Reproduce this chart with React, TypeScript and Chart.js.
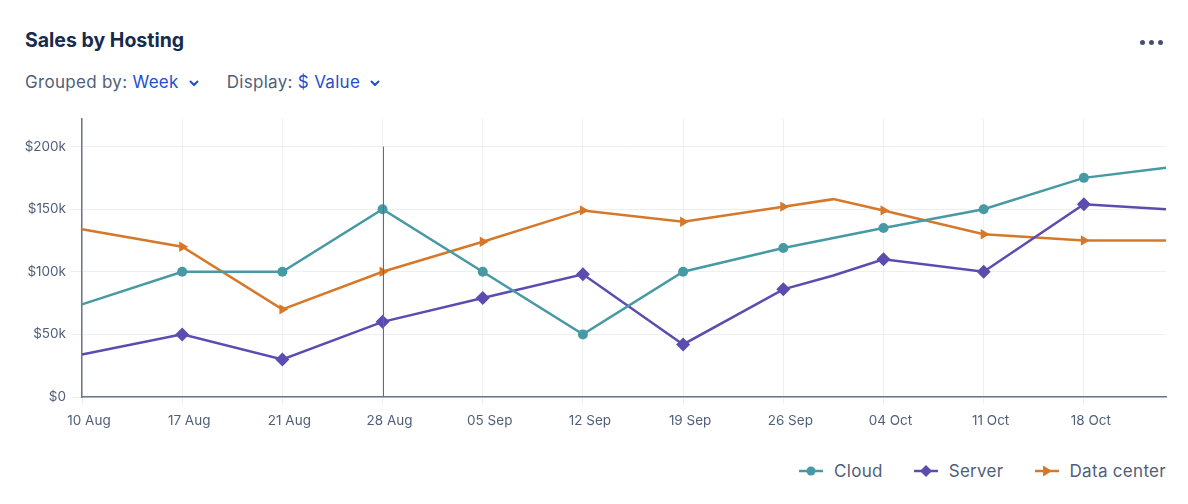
import React, { useEffect, useRef } from "react";
import { Chart, registerables } from "chart.js";

Chart.register(...registerables);

const tickLabels = ["10 Aug", "17 Aug", "21 Aug", "28 Aug", "05 Sep", "12 Sep", "19 Sep", "26 Sep", "04 Oct", "11 Oct", "18 Oct"];
// week offsets of every data point (7.5 is an in-between week, 10.82 the partial last week)
const weekOffsets = [0, 1, 2, 3, 4, 5, 6, 7, 7.5, 8, 9, 10, 10.82];
const cloud = [74, 100, 100, 150, 100, 50, 100, 119, 127, 135, 150, 175, 183];
const server = [34, 50, 30, 60, 79, 98, 42, 86, 97, 110, 100, 154, 150];
const dataCenter = [134, 120, 70, 100, 124, 149, 140, 152, 158, 149, 130, 125, 125];
const markerShown = [false, true, true, true, true, true, true, true, false, true, true, true, false];
const yTicks = [0, 50, 100, 150, 200];
const highlightWeek = 3;

const COLORS = { cloud: "#4799a4", server: "#5b4cb0", dc: "#d6782a" };
const FONT = "Inter, 'Noto Sans', sans-serif";

function series(vals: number[]) {
  return vals.map((v, i) => ({ x: weekOffsets[i], y: v * 1000 }));
}

const hoverLine = {
  id: "hoverLine",
  afterDatasetsDraw(chart: any) {
    const { ctx, scales } = chart;
    const x = scales.x.getPixelForValue(highlightWeek);
    const top = scales.y.getPixelForValue(200000);
    const bottom = scales.y.getPixelForValue(0);
    ctx.save();
    ctx.strokeStyle = "#5e6c84";
    ctx.lineWidth = 1;
    ctx.beginPath();
    ctx.moveTo(Math.round(x) + 0.5, top);
    ctx.lineTo(Math.round(x) + 0.5, bottom);
    ctx.stroke();
    ctx.restore();
  },
};

function LegendIcon({ color, shape }: { color: string; shape: string }) {
  let marker: any;
  if (shape === "circle") marker = <circle cx="12" cy="8" r="4.5" fill={color} />;
  else if (shape === "diamond") marker = <polygon points="12,2 18,8 12,14 6,8" fill={color} />;
  else marker = <polygon points="8,2.5 17,8 8,13.5" fill={color} />;
  return (
    <svg width="24" height="16" style={{ display: "block" }}>
      <line x1="0" y1="8" x2="24" y2="8" stroke={color} strokeWidth="2.5" />
      {marker}
    </svg>
  );
}

function Chevron() {
  return (
    <svg width="12" height="12" viewBox="0 0 12 12" style={{ display: "inline-block", marginLeft: 9, verticalAlign: "middle" }}>
      <polyline points="2.5,4.5 6,8 9.5,4.5" fill="none" stroke="#1f4fd1" strokeWidth="2" strokeLinecap="round" strokeLinejoin="round" />
    </svg>
  );
}

export default function App() {
  const ref = useRef<HTMLCanvasElement | null>(null);

  useEffect(() => {
    if (!ref.current) return;
    const mk = (label: string, vals: number[], color: string, style: any, radius: number, rotation = 0) => ({
      label,
      data: series(vals),
      borderColor: color,
      backgroundColor: color,
      borderWidth: 2.5,
      pointStyle: style,
      pointRotation: rotation,
      pointRadius: markerShown.map((m) => (m ? radius : 0)),
      pointHoverRadius: markerShown.map((m) => (m ? radius : 0)),
      pointBorderWidth: 0,
      tension: 0,
      clip: false as any,
    });
    const chart = new Chart(ref.current, {
      type: "line",
      data: {
        datasets: [
          mk("Cloud", cloud, COLORS.cloud, "circle", 5),
          mk("Server", server, COLORS.server, "rectRot", 7),
          mk("Data center", dataCenter, COLORS.dc, "triangle", 6, 90),
        ],
      },
      plugins: [hoverLine],
      options: {
        animation: false,
        responsive: false,
        maintainAspectRatio: false,
        events: [],
        layout: { padding: { top: 19, right: 22, left: 0, bottom: 0 } },
        plugins: { legend: { display: false }, tooltip: { enabled: false } },
        scales: {
          x: {
            type: "linear",
            min: 0,
            max: 10.82,
            afterBuildTicks: (scale: any) => {
              scale.ticks = tickLabels.map((_, i) => ({ value: i }));
            },
            afterFit: (scale: any) => {
              scale.height = 43;
            },
            grid: { color: "#eeeff2", lineWidth: 1, tickLength: 7, drawTicks: true },
            border: { color: "#6b778c", width: 1.5 },
            ticks: {
              autoSkip: false,
              maxRotation: 0,
              padding: 9,
              labelOffset: 7,
              color: "#505f79",
              font: { family: FONT, size: 13.5 },
              callback: (v: any) => tickLabels[Math.round(Number(v))] ?? "",
            },
          },
          y: {
            min: 0,
            max: 222000,
            afterBuildTicks: (scale: any) => {
              scale.ticks = yTicks.map((v) => ({ value: v * 1000 }));
            },
            afterFit: (scale: any) => {
              scale.width = 82;
            },
            grid: { color: "#eeeff2", lineWidth: 1, tickLength: 12 },
            border: { color: "#6b778c", width: 1.5 },
            ticks: {
              padding: 4,
              color: "#505f79",
              font: { family: FONT, size: 13.5 },
              callback: (v: any) => (Number(v) === 0 ? "$0" : "$" + Number(v) / 1000 + "k"),
            },
          },
        },
      },
    });
    return () => chart.destroy();
  }, []);

  const legendItems = [
    { label: "Cloud", color: COLORS.cloud, shape: "circle" },
    { label: "Server", color: COLORS.server, shape: "diamond" },
    { label: "Data center", color: COLORS.dc, shape: "triangle" },
  ];

  return (
    <div style={{ position: "fixed", left: 0, top: 0, width: 1188, height: 504, background: "#fff", fontFamily: FONT, overflow: "hidden" }}>
      <div style={{ position: "absolute", left: 25, top: 27, fontSize: 19.5, fontWeight: 700, color: "#172b4d", lineHeight: "26px" }}>
        Sales by Hosting
      </div>
      <div style={{ position: "absolute", left: 1139.5, top: 39.5, display: "flex", gap: 4 }}>
        {[0, 1, 2].map((i) => (
          <div key={i} style={{ width: 5, height: 5, borderRadius: 3, background: "#42526e" }} />
        ))}
      </div>
      <div style={{ position: "absolute", left: 25, top: 71, fontSize: 17, letterSpacing: 0.3, lineHeight: "22px", color: "#505f79", whiteSpace: "nowrap" }}>
        <span>Grouped by: </span>
        <span style={{ color: "#1f4fd1" }}>Week</span>
        <Chevron />
        <span style={{ marginLeft: 27 }}>Display: </span>
        <span style={{ color: "#1f4fd1" }}>$ Value</span>
        <Chevron />
      </div>
      <canvas ref={ref} width={1188} height={340} style={{ position: "absolute", left: 0, top: 100, width: 1188, height: 340 }} />
      <div style={{ position: "absolute", right: 22, top: 460, display: "flex", alignItems: "center", fontSize: 17, letterSpacing: 0.3, color: "#505f79", lineHeight: "22px" }}>
        {legendItems.map((it, i) => (
          <div key={it.label} style={{ display: "flex", alignItems: "center", marginLeft: i === 0 ? 0 : 31 }}>
            <LegendIcon color={it.color} shape={it.shape} />
            <span style={{ marginLeft: 11 }}>{it.label}</span>
          </div>
        ))}
      </div>
    </div>
  );
}
